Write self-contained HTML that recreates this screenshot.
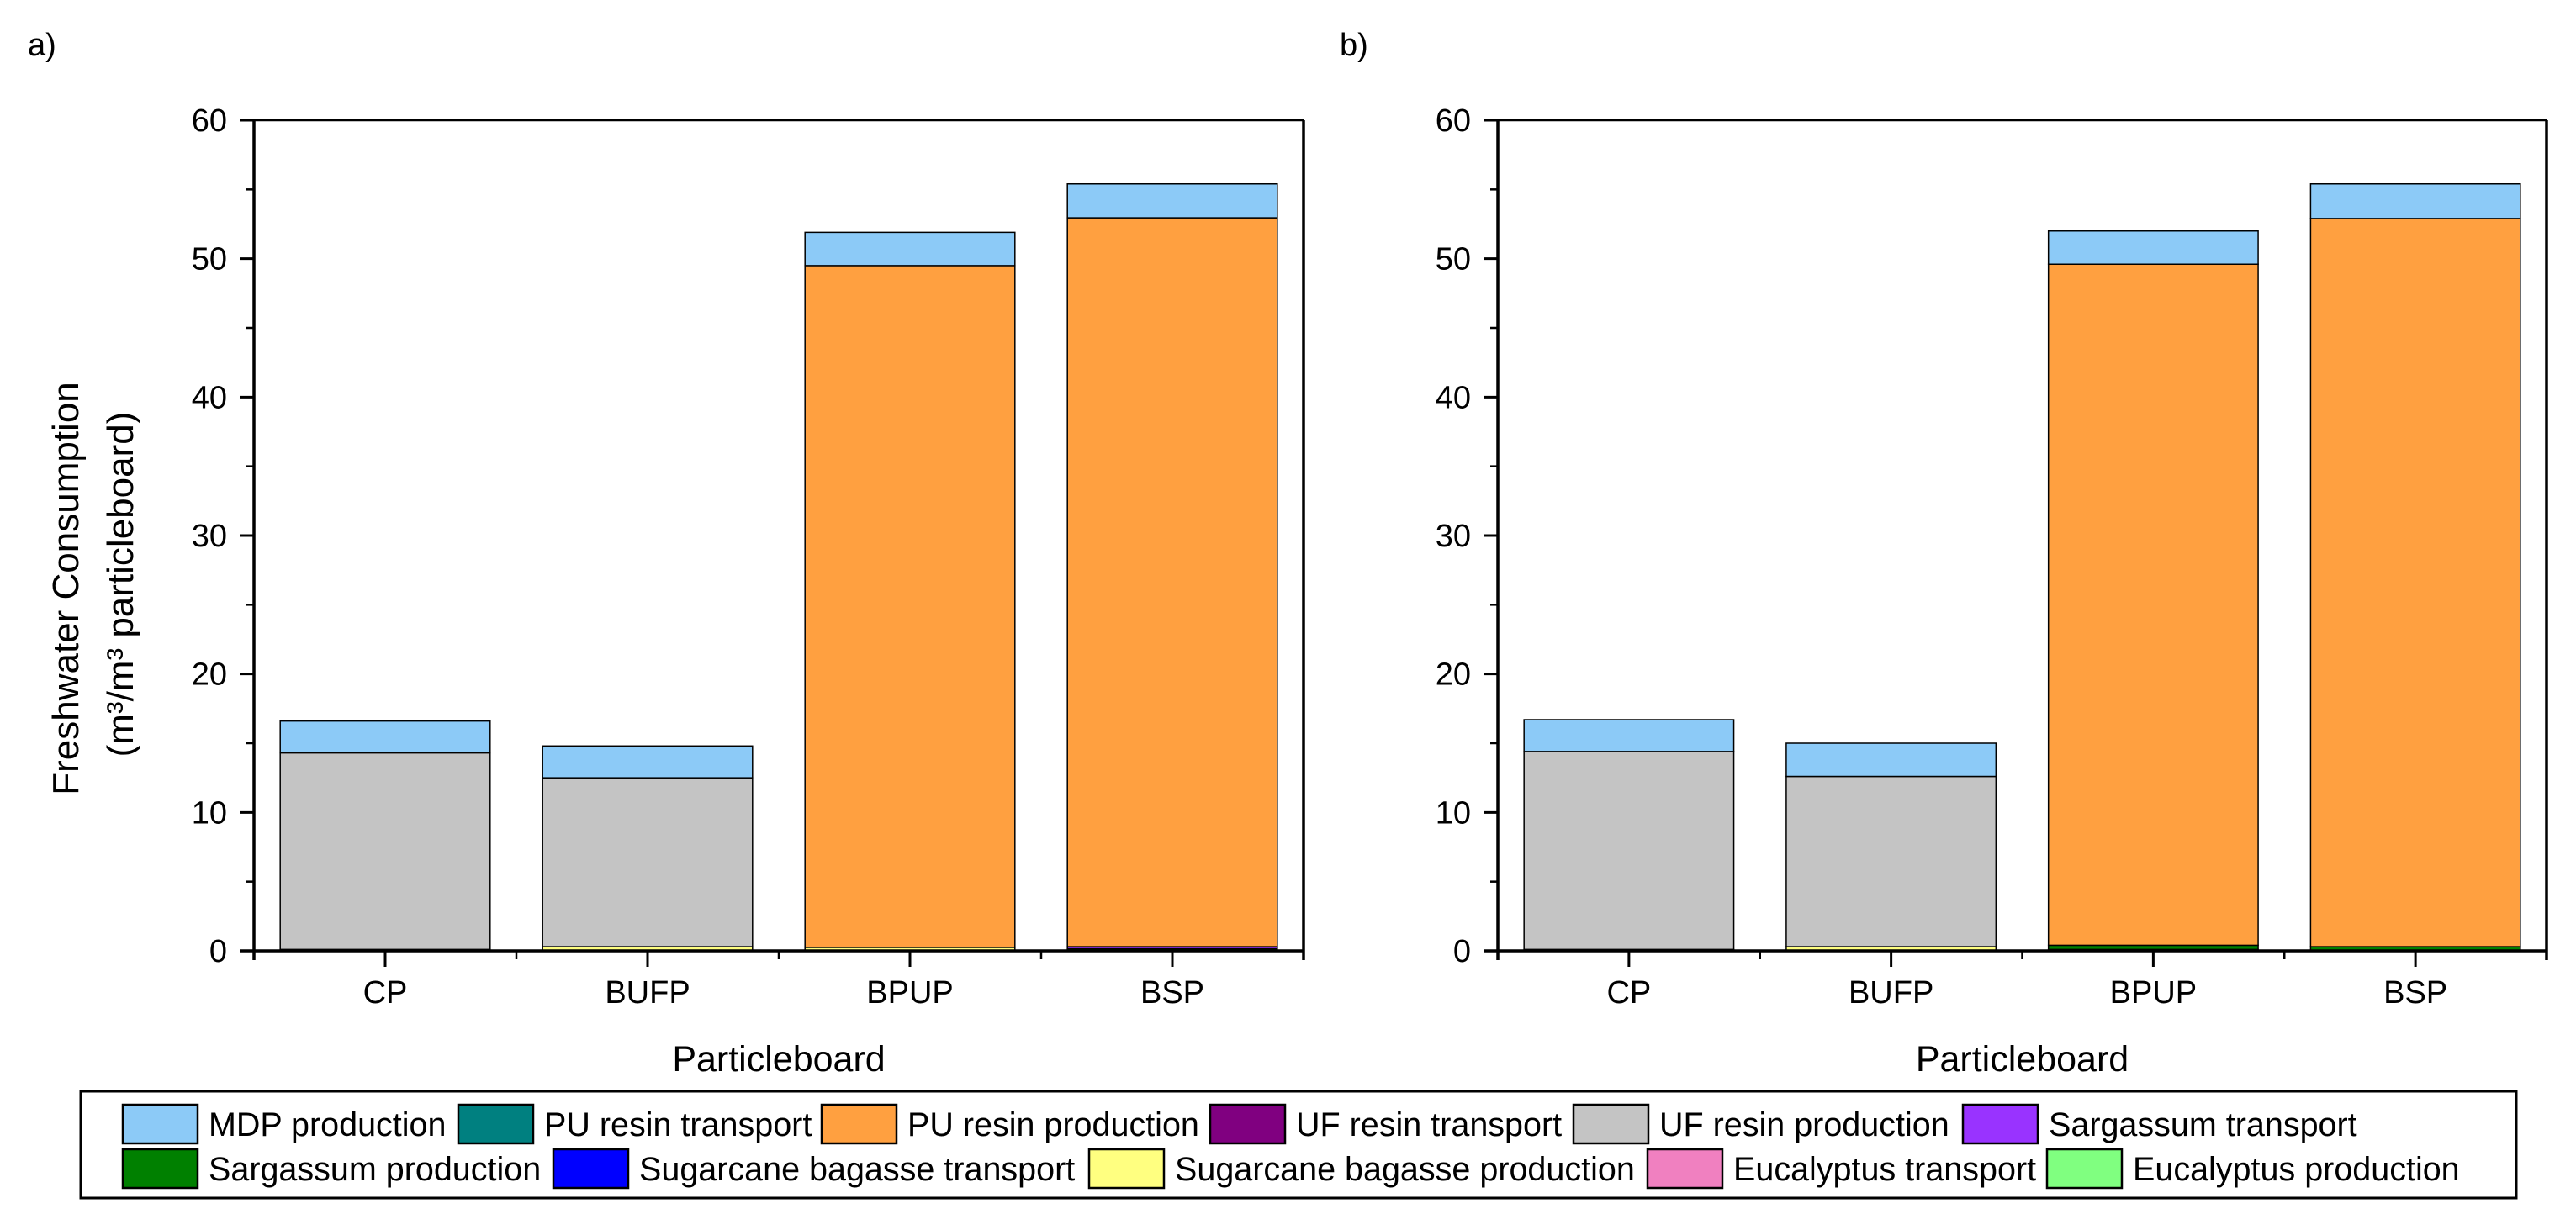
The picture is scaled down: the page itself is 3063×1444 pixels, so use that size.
<!DOCTYPE html>
<html><head><meta charset="utf-8"><style>
html,body{margin:0;padding:0;background:#fff;}
svg{display:block;font-family:"Liberation Sans",Arial,sans-serif;}
</style></head><body>
<svg id="chart" width="3063" height="1444" viewBox="0 0 3063 1444" xmlns="http://www.w3.org/2000/svg">
<g id="root"></g>
</svg>
<script>
const categories = ["CP","BUFP","BPUP","BSP"];
const seriesNames = ["Eucalyptus production","Eucalyptus transport","Sugarcane bagasse production","Sugarcane bagasse transport","Sargassum production","Sargassum transport","UF resin production","UF resin transport","PU resin production","PU resin transport","MDP production"];
const seriesColors = ["#80ff80","#f080c0","#ffff80","#0000ff","#008000","#9933ff","#c4c4c4","#800080","#ffa040","#008080","#8ccaf7"];
// panel a values (stack order bottom->top, same as seriesNames)
const valuesA = [
  [0,0,0,0],
  [0,0,0,0],
  [0.1,0.3,0.25,0],
  [0,0,0,0],
  [0,0,0,0.15],
  [0,0,0,0.15],
  [14.2,12.2,0,0],
  [0,0,0,0],
  [0,0,49.25,52.65],
  [0,0,0,0],
  [2.3,2.3,2.4,2.45]
];
const valuesB = [
  [0,0,0,0],
  [0,0,0,0],
  [0.1,0.3,0.1,0],
  [0,0,0,0],
  [0,0,0.3,0.3],
  [0,0,0,0],
  [14.3,12.3,0,0],
  [0,0,0,0],
  [0,0,49.2,52.6],
  [0,0,0,0],
  [2.3,2.4,2.4,2.5]
];
const yTicks = [0,10,20,30,40,50,60];
const yMinor = [5,15,25,35,45,55];
const legendRow1 = ["MDP production","PU resin transport","PU resin production","UF resin transport","UF resin production","Sargassum transport"];
const legendRow2 = ["Sargassum production","Sugarcane bagasse transport","Sugarcane bagasse production","Eucalyptus transport","Eucalyptus production"];

const NS="http://www.w3.org/2000/svg";
const root=document.getElementById('root');
function mk(tag,attrs,parent){const e=document.createElementNS(NS,tag);for(const k in attrs)e.setAttribute(k,attrs[k]);(parent||root).appendChild(e);return e;}

const yTop=143, yBot=1131, yMax=60;
function yScale(v){return yBot-(v/yMax)*(yBot-yTop);}

function panel(x0,x1,vals,label,lx,ly,showYTitle){
  const g=mk('g',{});
  
  
  const band=(x1-x0)/categories.length;
  function xScale(i){return x0+band*(i+0.5);}
  const bw=band*0.8;
  const t=mk('text',{x:lx,y:ly,'font-size':38},g);t.textContent=label;
  
  
  // bars
  categories.forEach((c,i)=>{
    let acc=0;
    vals.forEach((s,k)=>{
      const v=s[i]; if(v<=0) return;
      const r=mk('rect',{x:xScale(i)-bw/2,y:yScale(acc+v),width:bw,height:yScale(acc)-yScale(acc+v),fill:seriesColors[k],stroke:'#000','stroke-width':1.5},g);
      
      
      acc+=v;
    });
  });
  // frame
  mk('line',{x1:x0,y1:yTop,x2:x1,y2:yTop,stroke:'#000','stroke-width':2.5},g);
  mk('line',{x1:x1,y1:yTop,x2:x1,y2:yBot+11,stroke:'#000','stroke-width':3.5},g);
  const ya=mk('line',{x1:x0,y1:yTop,x2:x0,y2:yBot+11,stroke:'#000','stroke-width':3.5},g);
  
  
  const xa=mk('line',{x1:x0-17,y1:yBot,x2:x1,y2:yBot,stroke:'#000','stroke-width':3.5},g);
  
  
  yTicks.forEach(v=>{
    mk('line',{x1:x0-17,y1:yScale(v),x2:x0,y2:yScale(v),stroke:'#000','stroke-width':3},g);
    const tl=mk('text',{x:x0-32,y:yScale(v)+13,'font-size':38,'text-anchor':'end'},g);
    tl.textContent=v;
    
    
  });
  yMinor.forEach(v=>{mk('line',{x1:x0-9,y1:yScale(v),x2:x0,y2:yScale(v),stroke:'#000','stroke-width':2.5},g);});
  categories.forEach((c,i)=>{
    mk('line',{x1:xScale(i),y1:yBot,x2:xScale(i),y2:yBot+19,stroke:'#000','stroke-width':3},g);
    if(i>0) mk('line',{x1:x0+band*i,y1:yBot,x2:x0+band*i,y2:yBot+10,stroke:'#000','stroke-width':2.5},g);
    const cl=mk('text',{x:xScale(i),y:yBot+62,'font-size':38,'text-anchor':'middle'},g);
    cl.textContent=c;
    
    
  });
  const xt=mk('text',{x:(x0+x1)/2,y:1274,'font-size':43,'text-anchor':'middle'},g);
  xt.textContent='Particleboard';
  
  
  if(showYTitle){
    const yt=mk('text',{transform:'translate(93,700) rotate(-90)','font-size':44,'text-anchor':'middle'},g);
    yt.textContent='Freshwater Consumption';
    
    
    const yt2=mk('text',{transform:'translate(158,695) rotate(-90)','font-size':44,'text-anchor':'middle'},g);
    yt2.textContent='(m³/m³ particleboard)';
    
    
  }
}
panel(302,1550,valuesA,'a)',33,66,true);
panel(1781,3028,valuesB,'b)',1593,66,false);

// legend
const lg=mk('g',{});


mk('rect',{x:96,y:1298,width:2896,height:127,fill:'#fff',stroke:'#000','stroke-width':3},lg);
const row1X=[146,545,977,1439,1871,2334];
const row2X=[146,658,1295,1959,2434];
function legendEntry(name,x,y){
  const k=seriesNames.indexOf(name);
  const e=mk('g',{},lg);
  
  
  mk('rect',{x:x,y:y,width:89,height:46,fill:seriesColors[k],stroke:'#000','stroke-width':2.5},e);
  const t=mk('text',{x:x+102,y:y+37,'font-size':39.5},e);
  t.textContent=name;
}
legendRow1.forEach((n,i)=>legendEntry(n,row1X[i],1314));
legendRow2.forEach((n,i)=>legendEntry(n,row2X[i],1367));
</script>
</body></html>
